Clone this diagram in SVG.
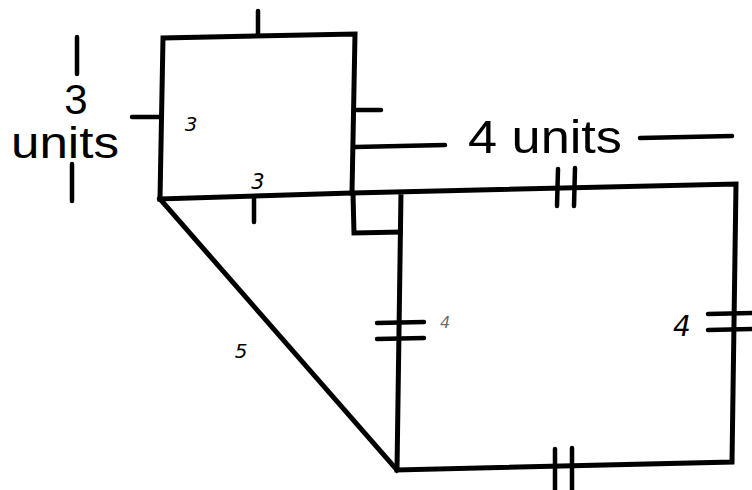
<svg xmlns="http://www.w3.org/2000/svg" width="752" height="490" viewBox="0 0 752 490">
<style>
.ln{fill:none;stroke:#000;stroke-width:5;stroke-linecap:square;stroke-linejoin:miter}
.tk{fill:none;stroke:#000;stroke-width:4.5;stroke-linecap:round}
.big{font-family:"Liberation Sans",Arial,sans-serif;fill:#000}
.hand{font-family:"DejaVu Sans","Liberation Sans",sans-serif;font-style:italic;fill:#000}
</style>
<rect width="752" height="490" fill="#fff"/>
<g id="small-square">
<path class="ln" d="M160,199 L163,38 L355,34 L352,193"/>
<line class="tk" x1="258" y1="11" x2="258" y2="35"/>
<line class="tk" x1="132" y1="117" x2="161" y2="117"/>
<line class="tk" x1="355" y1="110" x2="381" y2="110"/>
<line class="tk" x1="254" y1="197" x2="254" y2="222"/>
<text class="hand" x="191" y="131" font-size="20" text-anchor="middle">3</text>
<text class="hand" x="258" y="189" font-size="21" text-anchor="middle">3</text>
</g>
<g id="big-square">
<path class="ln" d="M160,199 L352,193 L736,184 L732,462 L397,470 L401,192"/>
<path class="ln" d="M353,194 L354,233 L400,232" stroke-width="4.5"/>
<line class="tk" x1="558" y1="169" x2="557" y2="206"/>
<line class="tk" x1="575" y1="168" x2="574" y2="206"/>
<line class="tk" x1="377" y1="323" x2="424" y2="322"/>
<line class="tk" x1="377" y1="339" x2="424" y2="338"/>
<line class="tk" x1="708" y1="314" x2="752" y2="313"/>
<line class="tk" x1="708" y1="330" x2="752" y2="329"/>
<line class="tk" x1="555" y1="449" x2="555" y2="490"/>
<line class="tk" x1="572" y1="448" x2="572" y2="490"/>
<text class="hand" x="445" y="328" font-size="16" text-anchor="middle" fill-opacity="0.6">4</text>
<text class="hand" x="682" y="336" font-size="28" text-anchor="middle">4</text>
</g>
<g id="triangle">
<line class="ln" x1="160" y1="199" x2="397" y2="470"/>
<text class="hand" x="241" y="358" font-size="20" text-anchor="middle">5</text>
</g>
<g id="label-3-units">
<line class="tk" x1="77" y1="37" x2="77" y2="74"/>
<line class="tk" x1="72" y1="164" x2="72" y2="201"/>
<text class="big" x="76" y="114" font-size="42" text-anchor="middle">3</text>
<text class="big" x="65" y="158" font-size="45" text-anchor="middle" textLength="108" lengthAdjust="spacingAndGlyphs">units</text>
</g>
<g id="label-4-units">
<line class="tk" x1="355" y1="147" x2="445" y2="145"/>
<line class="tk" x1="640" y1="138" x2="732" y2="136"/>
<text class="big" x="468" y="153" font-size="46" textLength="154" lengthAdjust="spacingAndGlyphs">4 units</text>
</g>
</svg>
